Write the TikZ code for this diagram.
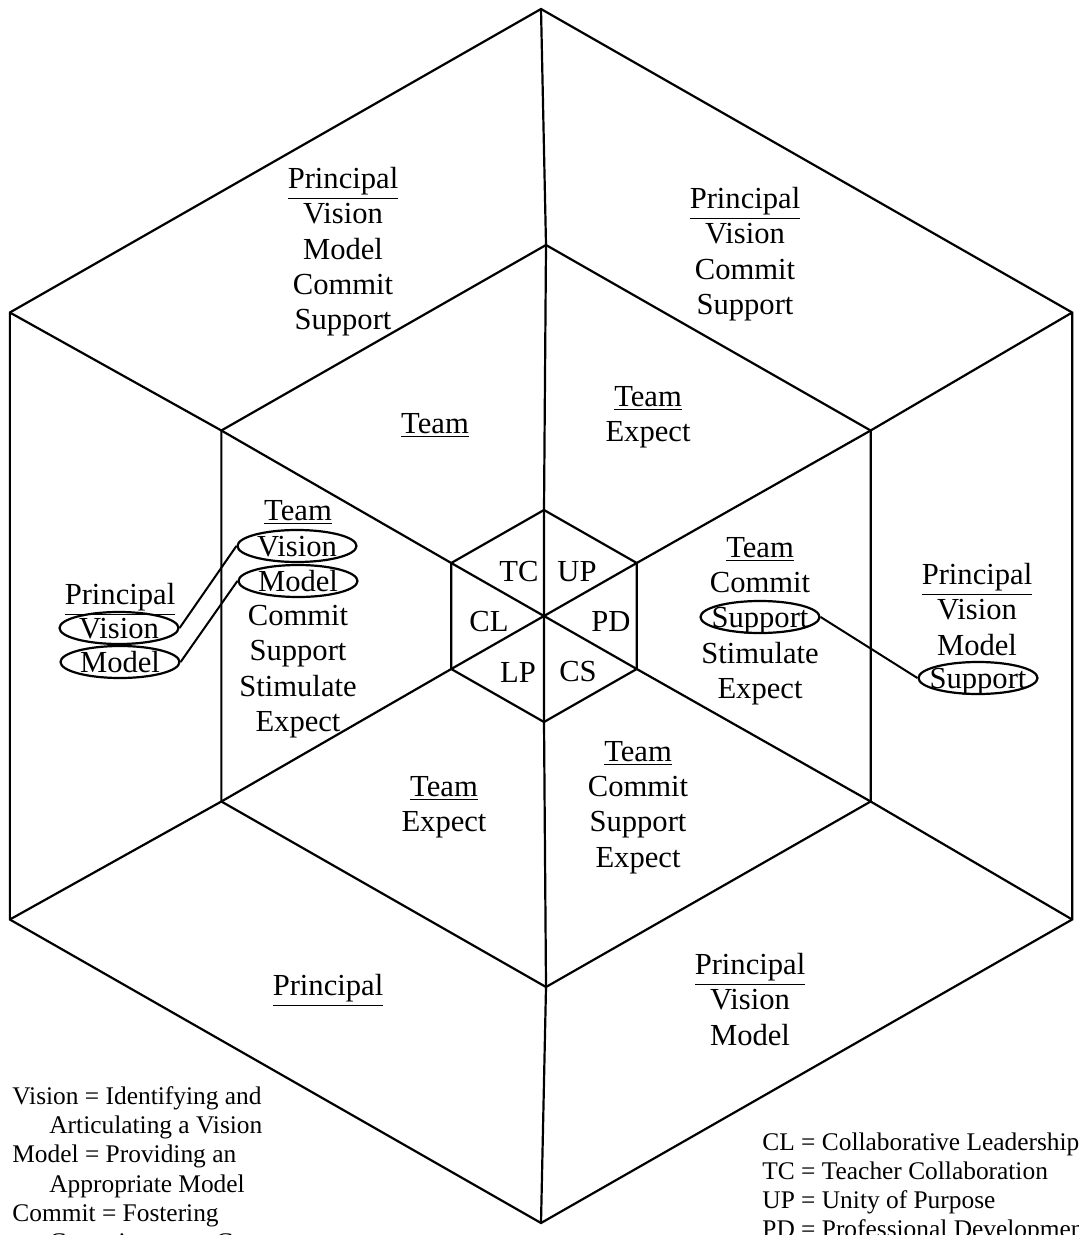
\documentclass[tikz,border=0pt]{standalone}
\usepackage{fontspec}
\setmainfont{Liberation Serif}
\usepackage{tikz}
\usetikzlibrary{shapes,arrows}
\usetikzlibrary{positioning}
\tikzstyle{line} = [draw, line width=1pt]
\tikzstyle{hexline} = [draw, line width=1.1pt, line join=miter]

\begin{document}
\begin{tikzpicture}[x=0.5pt, y=-0.5pt,
		word/.style={align=center, inner sep=0pt, anchor=north,
			font=\fontsize{15.3pt}{17.6pt}\selectfont},
		cell/.style={inner sep=0pt, font=\fontsize{15.3pt}{17.6pt}\selectfont},
		oval/.style={draw, ellipse, line width=1.1pt, inner xsep=-10pt, inner ysep=0pt,
			minimum width=59.5pt, minimum height=16pt, text height=10pt, text depth=0pt,
			font=\fontsize{15.3pt}{17.6pt}\selectfont},
		legend/.style={align=left, inner sep=0pt, anchor=north west,
			font=\fontsize{12.7pt}{14.65pt}\selectfont}]
		\useasboundingbox (0,0) rectangle (1078,1235);
		%% Hexagons
		\foreach \r/\cx/\n in {607/541/o, 371/546/m, 106/544/i}{
			\foreach \a [count=\k] in {90,30,-30,-90,-150,150}
				\coordinate (\n\k) at ({\cx+1.0104*\r*cos(\a)}, {616-\r*sin(\a)});
			\draw [hexline] (\n1) -- (\n2) -- (\n3) -- (\n4) -- (\n5) -- (\n6) -- cycle;
		}
		\foreach \k [evaluate=\k as \j using int(\k+3)] in {1,2,3}
			\draw [hexline] (o\k) -- (m\k) -- (i\k) -- (i\j) -- (m\j) -- (o\j);
		%% Inner cells
		\node [cell] (tc) at (519,572) {TC};
		\node [cell] (up) at (577,572) {UP};
		\node [cell] (cl) at (489,622) {CL};
		\node [cell] (pd) at (611,622) {PD};
		\node [cell] (lp) at (518,672) {LP};
		\node [cell] (cs) at (578,672) {CS};
		%% Team ring
		\node [word] (teamul) at (435,413) {\underline{Team}};
		\node [word] (teamur) at (648,386) {\underline{Team}\\Expect};
		\node [word] (teamr) at (760,537) {\underline{Team}\\Commit};
		\node [oval] (tsupport) at (760,617) {Support};
		\node [word] (teamrb) at (760,642) {Stimulate\\Expect};
		\node [word] (teamlr) at (638,741) {\underline{Team}\\Commit\\Support\\Expect};
		\node [word] (teamll) at (444,776) {\underline{Team}\\Expect};
		\node [word] (teaml) at (298,500) {\underline{Team}};
		\node [oval] (tvision) at (297,546) {Vision};
		\node [oval] (tmodel) at (298,581) {Model};
		\node [word] (teamlb) at (298,605) {Commit\\Support\\Stimulate\\Expect};
		%% Principal ring
		\node [word] (princul) at (343,167) {\underline{Principal}\\Vision\\Model\\Commit\\Support};
		\node [word] (princur) at (745,187) {\underline{Principal}\\Vision\\Commit\\Support};
		\node [word] (princr) at (977,563) {\underline{Principal}\\Vision\\Model};
		\node [oval] (psupport) at (978,678) {Support};
		\node [word] (princlr) at (750,953) {\underline{Principal}\\Vision\\Model};
		\node [word] (princll) at (328,974) {\underline{Principal}};
		\node [word] (princl) at (120,583) {\underline{Principal}};
		\node [oval] (pvision) at (119,628) {Vision};
		\node [oval] (pmodel) at (120,662) {Model};
		%% Links
		\path [line] (pvision.east) to (tvision.west);
		\path [line] (pmodel.east) to (tmodel.west);
		\path [line] (tsupport.east) to (psupport.west);
		%% Keys
		\node [legend] (keyleft) at (12,1086) {Vision = Identifying and\\
			\hspace*{18.5pt}Articulating a Vision\\
			Model = Providing an\\
			\hspace*{18.5pt}Appropriate Model\\
			Commit = Fostering\\
			\hspace*{18.5pt}Commitment to Group};
		\node [legend] (keyright) at (762,1132) {CL = Collaborative Leadership\\
			TC = Teacher Collaboration\\
			UP = Unity of Purpose\\
			PD = Professional Development};
\end{tikzpicture}
\end{document}
